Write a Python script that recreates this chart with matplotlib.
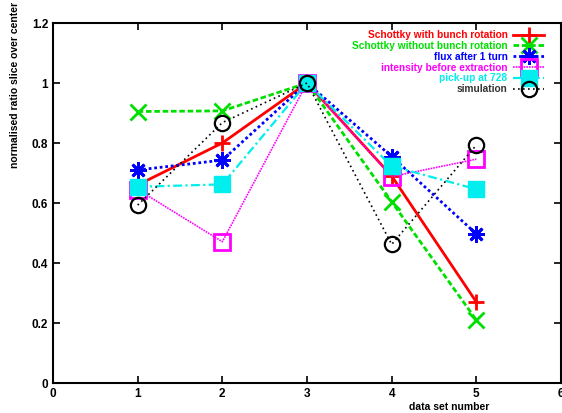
import matplotlib
matplotlib.use("Agg")
import matplotlib.pyplot as plt

plt.rcParams['font.family'] = ['Liberation Sans', 'DejaVu Sans']

# data sets 1..5, ratios normalised to the centre slice
data_set = [1, 2, 3, 4, 5]
schottky_rot = [0.66, 0.80, 1.0, 0.69, 0.27]
schottky_norot = [0.905, 0.907, 1.0, 0.604, 0.21]
flux_turn1 = [0.71, 0.743, 1.0, 0.755, 0.497]
intensity_extr = [0.645, 0.471, 1.0, 0.688, 0.746]
pickup_728 = [0.654, 0.662, 1.0, 0.723, 0.646]
simulation = [0.593, 0.868, 1.0, 0.462, 0.793]

x_ticks = [0, 1, 2, 3, 4, 5, 6]
y_ticks = [0, 0.2, 0.4, 0.6, 0.8, 1.0, 1.2]
y_tick_labels = ['0', '0.2', '0.4', '0.6', '0.8', '1', '1.2']

fig = plt.figure(figsize=(5.62, 4.13), dpi=100)
ax = fig.add_axes([53 / 562, 30 / 413, 508 / 562, 360 / 413])

ms = 11
ax.plot(data_set, schottky_rot, color='#ff0000', lw=2.0, ls='-',
        marker='+', ms=ms, mew=2.0, label='Schottky with bunch rotation')
ax.plot(data_set, schottky_norot, color='#00e000', lw=2.0, ls=(0, (2, 1)),
        marker='x', ms=ms, mew=2.0, label='Schottky without bunch rotation')
ax.plot(data_set, flux_turn1, color='#0000ff', lw=2.0, ls=(0, (1, 1)),
        marker=(8, 2, 0), ms=ms + 1, mew=2.0, label='flux after 1 turn')
ax.plot(data_set, intensity_extr, color='#ff00ff', lw=1.2, ls=(0, (1, 0.6)),
        marker='s', ms=ms, mfc='none', mew=2.0, label='intensity before extraction')
ax.plot(data_set, pickup_728, color='#00eeee', lw=1.6, ls=(0, (4, 1.5, 1, 1.5)),
        marker='s', ms=ms, mec='#00eeee', mfc='#00eeee', mew=1.0, label='pick-up at 728')
ax.plot(data_set, simulation, color='#000000', lw=1.2, ls=(0, (1, 2)),
        marker='o', ms=ms, mfc='none', mew=1.6, label='simulation')

ax.set_xlim(0, 6)
ax.set_ylim(0, 1.2)
ax.set_xticks(x_ticks)
ax.set_yticks(y_ticks)
ax.set_yticklabels(y_tick_labels)
ax.tick_params(direction='in', top=True, right=True, length=5, width=1.2,
               labelsize=8.5, pad=3.5)
for lab in ax.get_xticklabels() + ax.get_yticklabels():
    lab.set_fontweight('bold')
for sp in ax.spines.values():
    sp.set_linewidth(1.5)

fig.text(15 / 562, 1 - 85 / 413, 'normalised ratio slice over center',
         rotation=90, ha='center', va='center', fontsize=7.5, fontweight='bold')
ax.text(4.68, -0.079, 'data set number', transform=ax.transData,
        ha='center', va='center', fontsize=7.5, fontweight='bold')

leg = ax.legend(loc='upper right', bbox_to_anchor=(1 - 10 / 508, 1),
                markerfirst=False, frameon=False,
                labelcolor='linecolor', prop={'size': 7.3, 'weight': 'bold'},
                handlelength=3.0, handletextpad=0.6, labelspacing=0.08,
                borderaxespad=0.3, numpoints=1)
leg.get_texts()[-1].set_color('#333333')

fig.savefig('out.png', dpi=100)
